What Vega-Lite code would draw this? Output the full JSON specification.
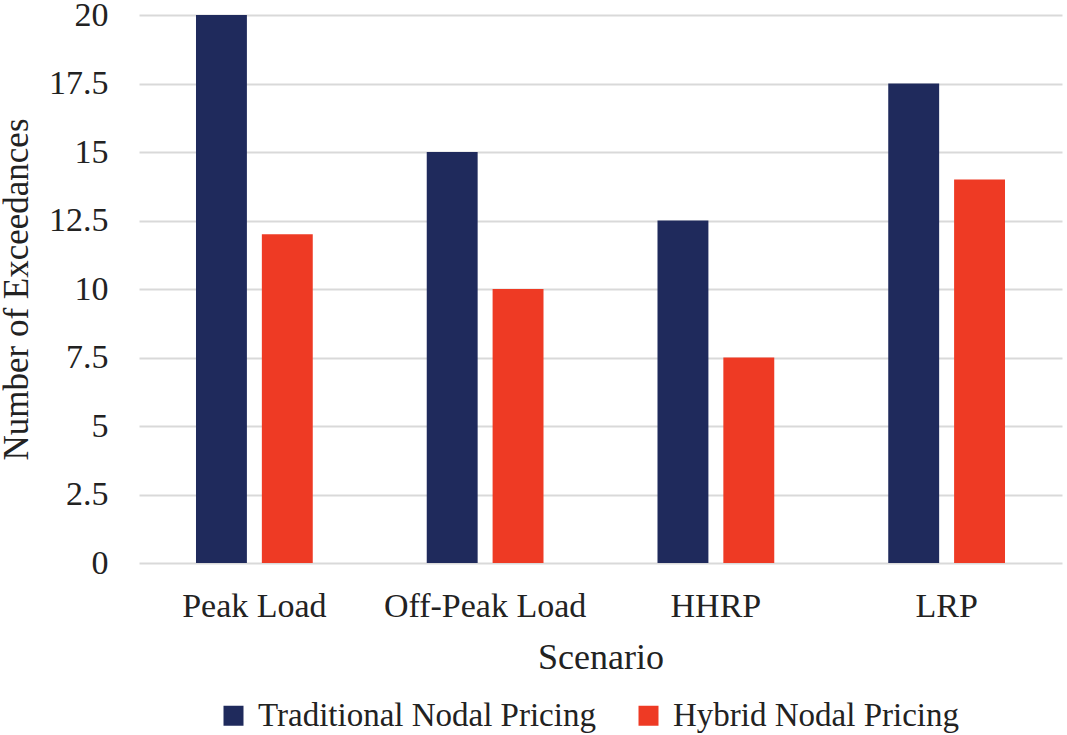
{
  "$schema": "https://vega.github.io/schema/vega-lite/v6.json",
  "width": 923,
  "height": 548,
  "autosize": {"type": "none"},
  "padding": {"left": 139, "top": 15, "right": 5, "bottom": 172},
  "background": "white",
  "config": {
    "view": {"stroke": null},
    "font": "Liberation Serif"
  },
  "data": {
    "values": [
      {"scenario": "Peak Load", "method": "Traditional Nodal Pricing", "value": 20},
      {"scenario": "Peak Load", "method": "Hybrid Nodal Pricing", "value": 12},
      {"scenario": "Off-Peak Load", "method": "Traditional Nodal Pricing", "value": 15},
      {"scenario": "Off-Peak Load", "method": "Hybrid Nodal Pricing", "value": 10},
      {"scenario": "HHRP", "method": "Traditional Nodal Pricing", "value": 12.5},
      {"scenario": "HHRP", "method": "Hybrid Nodal Pricing", "value": 7.5},
      {"scenario": "LRP", "method": "Traditional Nodal Pricing", "value": 17.5},
      {"scenario": "LRP", "method": "Hybrid Nodal Pricing", "value": 14}
    ]
  },
  "mark": {"type": "bar"},
  "encoding": {
    "x": {
      "field": "scenario",
      "type": "nominal",
      "sort": ["Peak Load", "Off-Peak Load", "HHRP", "LRP"],
      "scale": {"paddingInner": 0.494, "paddingOuter": 0.247},
      "axis": {
        "title": "Scenario",
        "labelAngle": 0,
        "labelFontSize": 34,
        "labelColor": "#222222",
        "labelPadding": 26,
        "labelLimit": 400,
        "titleFontSize": 36,
        "titleFontWeight": "normal",
        "titleColor": "#222222",
        "titlePadding": 17,
        "ticks": false,
        "domain": false
      }
    },
    "xOffset": {
      "field": "method",
      "type": "nominal",
      "sort": ["Traditional Nodal Pricing", "Hybrid Nodal Pricing"],
      "scale": {"paddingInner": 0.227, "paddingOuter": 0}
    },
    "y": {
      "field": "value",
      "type": "quantitative",
      "scale": {"domain": [0, 20], "nice": false},
      "axis": {
        "title": "Number of Exceedances",
        "values": [0, 2.5, 5, 7.5, 10, 12.5, 15, 17.5, 20],
        "format": ".3~g",
        "labelFontSize": 34,
        "labelColor": "#222222",
        "labelPadding": 31,
        "titleFontSize": 35,
        "titleFontWeight": "normal",
        "titleColor": "#222222",
        "titlePadding": 14,
        "ticks": false,
        "domain": false,
        "grid": true,
        "gridColor": "#d9d9d9",
        "gridWidth": 2
      }
    },
    "color": {
      "field": "method",
      "type": "nominal",
      "sort": ["Traditional Nodal Pricing", "Hybrid Nodal Pricing"],
      "scale": {
        "domain": ["Traditional Nodal Pricing", "Hybrid Nodal Pricing"],
        "range": ["#1f2a5c", "#ee3a24"]
      },
      "legend": {
        "title": null,
        "orient": "none",
        "direction": "horizontal",
        "legendX": 78,
        "legendY": 684,
        "symbolType": "square",
        "symbolSize": 400,
        "symbolStrokeWidth": 0,
        "labelFontSize": 33,
        "labelColor": "#222222",
        "labelOffset": 8,
        "labelLimit": 500,
        "columnPadding": 36
      }
    }
  }
}
